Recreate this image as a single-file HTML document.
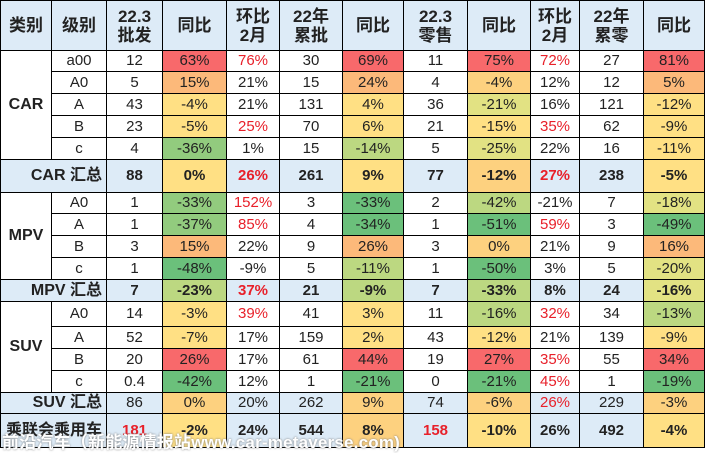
<!DOCTYPE html>
<html><head><meta charset="utf-8">
<style>
html,body{margin:0;padding:0;background:#fff;}
body{width:705px;height:449px;overflow:hidden;position:relative;font-family:"Liberation Sans","Noto Sans CJK SC",sans-serif;}
table{position:absolute;left:0;top:0;border-collapse:collapse;table-layout:fixed;width:704px;}
td{border:1px solid #000;text-align:center;padding:0;font-size:15px;color:#222;white-space:nowrap;overflow:hidden;line-height:16px;}
td.h{background:#ddebf7;font-weight:bold;font-size:17px;line-height:19px;}
td.cat{font-weight:bold;font-size:16px;}
td.sum{font-weight:bold;font-size:16px;}
.b{background:#ddebf7;}
.r{background:#f8696b;}.o{background:#fcb97a;}.o2{background:#fdd17f;}.y{background:#ffe084;}
.yg{background:#e2e283;}.lg{background:#bcd881;}.mg{background:#92cb7e;}.g{background:#6bc07b;}
.red{color:#e8202a;}
.bold{font-weight:bold;}
#wm{position:absolute;left:2px;top:428px;font-size:17px;font-weight:bold;color:#fff;text-shadow:0 0 2px #777;white-space:nowrap;font-family:"Liberation Sans","Noto Sans CJK SC",sans-serif;letter-spacing:0.2px;}
</style></head><body>
<table id="tbl">
<colgroup><col style="width:51px"><col style="width:55px"><col style="width:56px"><col style="width:64px"><col style="width:53px"><col style="width:63px"><col style="width:61px"><col style="width:64px"><col style="width:63px"><col style="width:49px"><col style="width:64px"><col style="width:61px"></colgroup>
<tbody id="tb"></tbody>
</table>
<div id="wm">前沿汽车（新能源情报站www.car-metaverse.com)</div>
<script>
const headers=["类别","级别","22.3<br>批发","同比","环比<br>2月","22年<br>累批","同比","22.3<br>零售","同比","环比<br>2月","22年<br>累零","同比"];
const rowHeights=[50,21,22,22,22,22,33,21,22,22,22,22,25,22,22,22,21,34];
const rows=[
["CAR","a00","12","63%","76%","30","69%","11","75%","72%","27","81%"],
["","A0","5","15%","21%","15","24%","4","-4%","12%","12","5%"],
["","A","43","-4%","21%","131","4%","36","-21%","16%","121","-12%"],
["","B","23","-5%","25%","70","6%","21","-15%","35%","62","-9%"],
["","c","4","-36%","1%","15","-14%","5","-25%","22%","16","-11%"],
["CAR 汇总","","88","0%","26%","261","9%","77","-12%","27%","238","-5%"],
["MPV","A0","1","-33%","152%","3","-33%","2","-42%","-21%","7","-18%"],
["","A","1","-37%","85%","4","-34%","1","-51%","59%","3","-49%"],
["","B","3","15%","22%","9","26%","3","0%","21%","9","16%"],
["","c","1","-48%","-9%","5","-11%","1","-50%","3%","5","-20%"],
["MPV 汇总","","7","-23%","37%","21","-9%","7","-33%","8%","24","-16%"],
["SUV","A0","14","-3%","39%","41","3%","11","-16%","32%","34","-13%"],
["","A","52","-7%","17%","159","2%","43","-12%","21%","139","-9%"],
["","B","20","26%","17%","61","44%","19","27%","35%","55","34%"],
["","c","0.4","-42%","12%","1","-21%","0","-21%","45%","1","-19%"],
["SUV 汇总","","86","0%","20%","262","9%","74","-6%","26%","229","-3%"],
["乘联会乘用车","","181","-2%","24%","544","8%","158","-10%","26%","492","-4%"]
];
const yoyCls=[
["r","r","r","r"],["o","o","o2","o"],["y","y","yg","y"],["y","y","y","y"],["mg","lg","yg","y"],
["y","y","o2","y"],
["mg","g","lg","yg"],["mg","g","g","g"],["o","o","o2","o"],["g","lg","g","yg"],
["lg","lg","lg","yg"],
["y","y","lg","lg"],["y","y","y","y"],["r","r","r","r"],["g","g","g","g"],
["o2","o2","o2","o2"],["y","o2","y","y"]
];
const redMoM=[[1,1],[0,0],[0,0],[1,1],[0,0],[1,1],[1,0],[1,1],[0,0],[0,0],[1,0],[1,1],[0,0],[0,1],[0,1],[0,1],[0,0]];
const sumRows=[5,10,15,16];
const tb=document.getElementById('tb');
let tr=document.createElement('tr');
tr.style.height=rowHeights[0]+'px';
headers.forEach((h,i)=>{
  const td=document.createElement('td');
  td.className='h';
  td.innerHTML=h;
  
  
  tr.appendChild(td);
});
tb.appendChild(tr);
rows.forEach((r,ri)=>{
  const tr=document.createElement('tr');
  tr.style.height=rowHeights[ri+1]+'px';
  
  
  const isSum=sumRows.includes(ri);
  if(isSum){
    const td=document.createElement('td');
    td.colSpan=2;td.className='b sum';
    td.style.textAlign='right';td.style.paddingRight='4px';
    td.textContent=r[0];
    
    
    tr.appendChild(td);
  }else{
    if(r[0]){
      const td=document.createElement('td');
      td.rowSpan=5-(r[0]==='CAR'?0:1);
      td.className='cat';td.textContent=r[0];
      
      
      tr.appendChild(td);
    }
    const td=document.createElement('td');
    td.textContent=r[1];
    
    
    tr.appendChild(td);
  }
  for(let c=2;c<12;c++){
    const td=document.createElement('td');
    td.textContent=r[c];
    
    
    const yi=[3,6,8,11].indexOf(c);
    let cls='';
    if(yi>=0)cls=yoyCls[ri][yi];
    else if(isSum)cls='b';
    if(c===4&&redMoM[ri][0])cls+=' red';
    if(c===9&&redMoM[ri][1])cls+=' red';
    if(ri===16&&(c===2||c===7))cls+=' red';
    if(isSum&&ri!==15)cls+=' bold';
    td.className=cls;
    tr.appendChild(td);
  }
  tb.appendChild(tr);
});
</script>
</body></html>
